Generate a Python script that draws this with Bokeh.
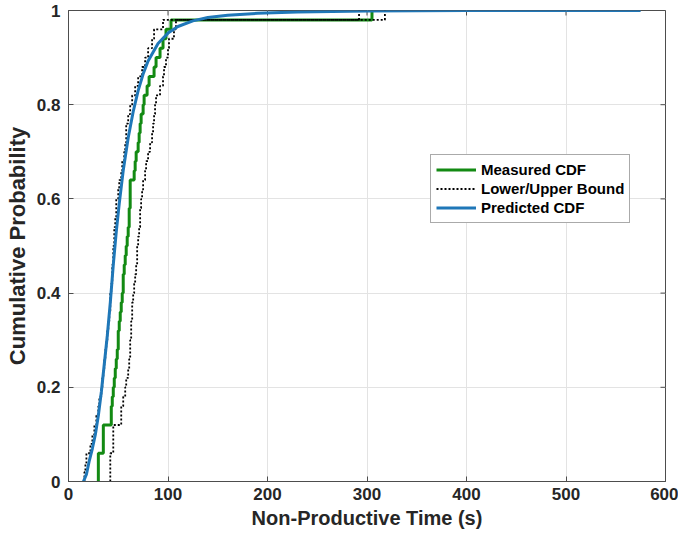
import numpy as np
from bokeh.plotting import figure
from bokeh.models import Range1d, CustomJSTickFormatter, FixedTicker, Legend, LegendItem
from bokeh.embed import file_html
from bokeh.resources import INLINE

# ---- data ----
measured_samples = [30, 30, 30, 35, 35, 35, 43, 43, 44, 45, 46, 47, 48, 49, 50, 50, 51,
                    52, 53, 54, 55, 55, 56, 57, 58, 59, 60, 61, 61, 62, 62, 62, 66, 67, 68,
                    70, 71, 72, 73, 75, 76, 79, 81, 86, 88, 92, 95, 98, 103, 305]
lower_bound_samples = [42, 42, 42, 45, 45, 45, 53, 53, 55, 57, 58, 60, 61, 62, 62, 63, 63,
                       64, 64, 65, 66, 67, 68, 69, 69, 70, 71, 72, 72, 73, 74, 75, 77, 78, 80,
                       82, 84, 85, 86, 87, 88, 92, 95, 96, 98, 100, 101, 106, 108, 318]
upper_bound_samples = [16, 17, 18, 22, 24, 26, 28, 30, 31, 33, 34, 35, 36, 37, 38, 39, 40,
                       41, 42, 42, 43, 44, 44, 45, 45, 46, 46, 47, 48, 48, 50, 51, 53, 54, 56,
                       57, 58, 58, 60, 62, 64, 67, 70, 74, 77, 80, 84, 86, 95, 292]
pred_x = [15, 18, 21, 24, 27, 30, 33, 36, 39, 42, 45, 48, 51, 55, 60, 65, 70, 75, 80, 90,
          100, 110, 125, 140, 160, 190, 230, 300, 400, 575]
pred_F = [0, 0.015, 0.045, 0.07, 0.10, 0.14, 0.19, 0.25, 0.31, 0.38, 0.46, 0.53, 0.59, 0.66,
          0.73, 0.785, 0.83, 0.865, 0.893, 0.93, 0.952, 0.966, 0.978, 0.985, 0.99, 0.994,
          0.997, 0.999, 1.0, 1.0]
x_ticks = [0, 100, 200, 300, 400, 500, 600]
y_ticks = [0, 0.2, 0.4, 0.6, 0.8, 1.0]
legend_labels = ["Measured CDF", "Lower/Upper Bound", "Predicted CDF"]


def ecdf_stairs(samples):
    s = np.sort(np.asarray(samples, dtype=float))
    u, c = np.unique(s, return_counts=True)
    F = np.cumsum(c) / len(s)
    xs, ys = [], []
    prev = 0.0
    for xi, fi in zip(u, F):
        xs += [xi, xi]
        ys += [prev, fi]
        prev = fi
    return xs, ys


FONT = "Liberation Sans"
TXT = "#262626"
AX = "#4d4d4d"

p = figure(width=678, height=541, output_backend="svg", toolbar_location=None,
           x_range=Range1d(0, 600), y_range=Range1d(0, 1),
           min_border_left=68, min_border_right=13, min_border_top=10, min_border_bottom=60,
           background_fill_color="white", border_fill_color="white")
p.outline_line_color = AX
p.outline_line_width = 1

p.grid.grid_line_color = "#e3e3e3"
p.grid.grid_line_width = 1

# mirrored inward tick marks on the top and right edges of the box
x_hi = p.x_range.end
y_hi = p.y_range.end
p.ray(x=x_ticks, y=[y_hi] * len(x_ticks), length=5, length_units="screen",
      angle=-np.pi / 2, line_color=AX, line_width=1)
p.ray(x=[x_hi] * len(y_ticks), y=y_ticks, length=5, length_units="screen",
      angle=np.pi, line_color=AX, line_width=1)

mx, my = ecdf_stairs(measured_samples)
lx, ly = ecdf_stairs(lower_bound_samples)
ux, uy = ecdf_stairs(upper_bound_samples)

r_meas = p.line(mx, my, line_color="#138a13", line_width=3)
r_low = p.line(lx, ly, line_color="black", line_width=1.8, line_dash="2 2")
r_up = p.line(ux, uy, line_color="black", line_width=1.8, line_dash="2 2")
r_pred = p.line(pred_x, pred_F, line_color="#1f77b8", line_width=3)

for ax in (p.xaxis[0], p.yaxis[0]):
    ax.major_tick_in = 5
    ax.major_tick_out = 0
    ax.minor_tick_in = 0
    ax.minor_tick_out = 0
    ax.axis_line_color = AX
    ax.major_tick_line_color = AX
    ax.major_label_text_font = FONT
    ax.major_label_text_font_style = "bold"
    ax.major_label_text_font_size = "17px"
    ax.major_label_text_color = TXT
    ax.axis_label_text_font = FONT
    ax.axis_label_text_font_style = "bold"
    ax.axis_label_text_color = TXT

p.xaxis[0].ticker = FixedTicker(ticks=x_ticks)
p.yaxis[0].ticker = FixedTicker(ticks=y_ticks)
p.yaxis[0].formatter = CustomJSTickFormatter(code="return Number(tick.toFixed(2)).toString();")
p.xaxis[0].axis_label = "Non-Productive Time (s)"
p.yaxis[0].axis_label = "Cumulative Probability"
p.xaxis[0].axis_label_text_font_size = "20px"
p.yaxis[0].axis_label_text_font_size = "22px"
p.xaxis[0].major_label_standoff = 6
p.yaxis[0].major_label_standoff = 8
p.xaxis[0].axis_label_standoff = 4
p.yaxis[0].axis_label_standoff = 4

legend = Legend(items=[LegendItem(label=legend_labels[0], renderers=[r_meas]),
                       LegendItem(label=legend_labels[1], renderers=[r_low]),
                       LegendItem(label=legend_labels[2], renderers=[r_pred])],
                location=(362, 258))
legend.label_text_font = FONT
legend.label_text_font_style = "bold"
legend.label_text_font_size = "15px"
legend.label_text_color = "black"
legend.border_line_color = "#555555"
legend.border_line_width = 1
legend.background_fill_color = "white"
legend.background_fill_alpha = 1
legend.glyph_width = 40
legend.glyph_height = 19
legend.label_height = 19
legend.label_standoff = 5
legend.spacing = 0
legend.padding = 5
legend.margin = 0
p.add_layout(legend, "center")

open("out.html", "w").write(file_html(p, INLINE))
